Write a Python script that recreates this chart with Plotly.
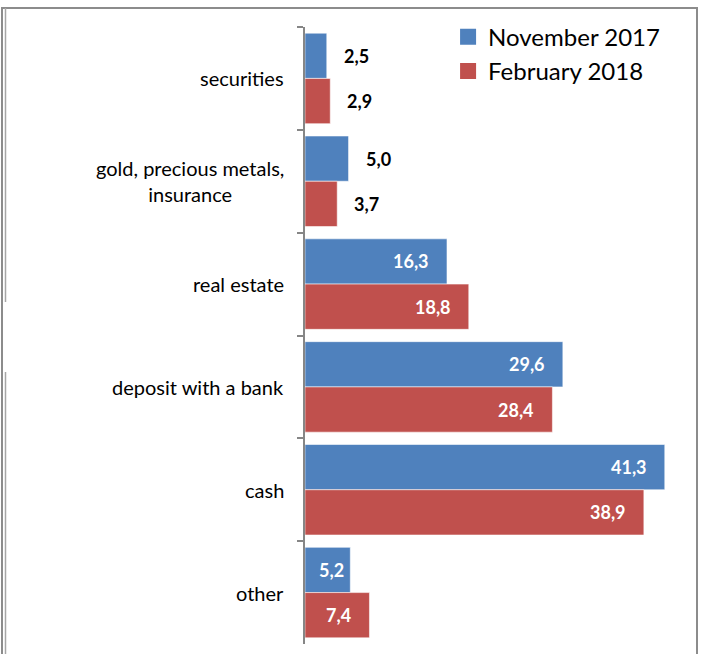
import plotly.graph_objects as go

categories = ["securities", "gold, precious metals,<br>insurance", "real estate",
              "deposit with a bank", "cash", "other"]
nov_2017 = [2.5, 5.0, 16.3, 29.6, 41.3, 5.2]
feb_2018 = [2.9, 3.7, 18.8, 28.4, 38.9, 7.4]
series_names = ["November 2017", "February 2018"]
outside_cats = ["securities", "gold, precious metals,<br>insurance"]

def fmt(v):
    return f"{v:.1f}".replace(".", ",")

FONT = "Lato, Carlito, Calibri, sans-serif"
colors = ["#4F81BD", "#C0504D"]

W, H = 702, 654
ML, MR, MT, MB = 305, 5, 27, 10
X_MAX = 45
plot_w = W - ML - MR
plot_h = H - MT - MB
slot = plot_h / len(categories)
bargap = 0.12
bar_h = slot * (1 - bargap) / 2
LABEL_W = 27

fig = go.Figure()
for name, vals, col in zip(series_names, [nov_2017, feb_2018], colors):
    fig.add_trace(go.Bar(
        y=categories, x=vals, orientation="h", name=name, showlegend=False,
        marker=dict(color=col, line=dict(color="rgba(255,255,255,0.55)", width=1)),
        hoverinfo="x+name",
    ))
# legend entries with larger square swatches
for name, col in zip(series_names, colors):
    fig.add_trace(go.Scatter(
        x=[None], y=[None], mode="markers", name=name,
        marker=dict(symbol="square", size=16, color=col),
    ))

# data labels placed with the axis scales
for k, vals in enumerate([nov_2017, feb_2018]):
    yshift = bar_h / 2 if k == 0 else -bar_h / 2
    for cat, v in zip(categories, vals):
        outside = cat in outside_cats
        if outside:
            xshift = 15
        else:
            bar_px = v / X_MAX * plot_w
            xshift = -max(4, min(16, bar_px - LABEL_W - 14))
        fig.add_annotation(
            x=v, y=cat, xref="x", yref="y", text=fmt(v), showarrow=False,
            xanchor="left" if outside else "right",
            xshift=xshift, yshift=yshift,
            font=dict(family=FONT, size=18, weight="bold",
                      color="black" if outside else "white"),
        )

# category labels (centered multi-line)
for cat in categories:
    fig.add_annotation(
        x=0, y=cat, xref="paper", yref="y", text=cat, showarrow=False,
        xanchor="right", xshift=-19, align="center",
        font=dict(family=FONT, size=20, color="black"),
    )

fig.update_layout(
    width=W, height=H,
    margin=dict(l=ML, r=MR, t=MT, b=MB, autoexpand=False),
    paper_bgcolor="white", plot_bgcolor="white",
    barmode="group", bargap=bargap, bargroupgap=0,
    font=dict(family=FONT, size=20, color="black"),
    showlegend=True,
    legend=dict(x=0.365, y=1.02, xanchor="left", yanchor="top",
                font=dict(size=24, family=FONT, color="black"),
                bgcolor="rgba(0,0,0,0)", tracegroupgap=0),
)
fig.update_yaxes(autorange="reversed", showline=True, linecolor="#868686", linewidth=1.5,
                 ticks="outside", ticklen=6, tickcolor="#868686", tickwidth=1.5,
                 tickson="boundaries", showgrid=False, showticklabels=False)
fig.update_xaxes(range=[0, X_MAX], visible=False, showgrid=False, zeroline=False)

# outer chart border
px_x = lambda p: (p - ML) / plot_w
px_y = lambda p: (H - MB - p) / plot_h
fig.add_shape(type="rect", xref="paper", yref="paper",
              x0=px_x(2), x1=px_x(697), y0=px_y(670), y1=px_y(8),
              line=dict(color="#8C8C8C", width=2), fillcolor="rgba(0,0,0,0)", layer="below")
for y0, y1 in [(8, 302), (372, 670)]:
    fig.add_shape(type="line", xref="paper", yref="paper",
                  x0=px_x(5.5), x1=px_x(5.5), y0=px_y(y1), y1=px_y(y0),
                  line=dict(color="#A6A6A6", width=1.5), layer="below")

fig.write_html("out.html", config={"displayModeBar": False},
               post_script="document.body.style.margin='0';")
